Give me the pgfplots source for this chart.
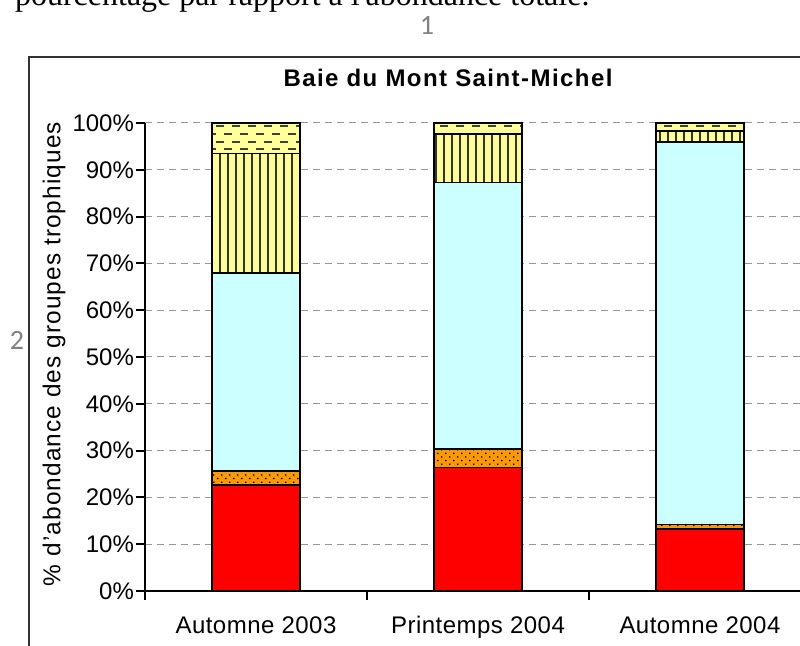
\documentclass[border=0pt]{standalone}
\usepackage{fontspec}
\setmainfont{Liberation Sans}
\newfontfamily\serifdoc{Liberation Serif}
\newfontfamily\calib{Carlito}
\usepackage{pgfplots}
\pgfplotsset{compat=1.18}
\usetikzlibrary{patterns}
\definecolor{cred}{RGB}{255,0,0}
\definecolor{corange}{RGB}{255,153,0}
\definecolor{ccyan}{RGB}{204,255,255}
\definecolor{cyellow}{RGB}{255,255,153}
\definecolor{gridgray}{RGB}{150,150,150}

\pgfdeclarepatternformonly{xdots}{\pgfqpoint{-1pt}{-1pt}}{\pgfqpoint{5pt}{5pt}}{\pgfqpoint{4pt}{3.6pt}}{%
  \pgfpathcircle{\pgfqpoint{0.9pt}{0.9pt}}{0.45pt}%
  \pgfpathcircle{\pgfqpoint{2.9pt}{2.7pt}}{0.45pt}%
  \pgfusepath{fill}}
\pgfdeclarepatternformonly{xvlines}{\pgfqpoint{-0.5pt}{-0.5pt}}{\pgfqpoint{4.5pt}{4.5pt}}{\pgfqpoint{4pt}{4pt}}{%
  \pgfsetlinewidth{0.75pt}%
  \pgfpathmoveto{\pgfqpoint{2pt}{-0.5pt}}%
  \pgfpathlineto{\pgfqpoint{2pt}{4.5pt}}%
  \pgfusepath{stroke}}
\pgfdeclarepatternformonly{xhdash}{\pgfqpoint{-0.5pt}{-0.5pt}}{\pgfqpoint{8.5pt}{8.2pt}}{\pgfqpoint{8pt}{7.7pt}}{%
  \pgfsetlinewidth{0.9pt}%
  \pgfpathmoveto{\pgfqpoint{0.2pt}{1.9pt}}\pgfpathlineto{\pgfqpoint{4pt}{1.9pt}}%
  \pgfpathmoveto{\pgfqpoint{4.2pt}{5.75pt}}\pgfpathlineto{\pgfqpoint{8pt}{5.75pt}}%
  \pgfusepath{stroke}}

\begin{document}
\begin{tikzpicture}[x=0.5pt,y=0.5pt]
\useasboundingbox (0,0) rectangle (800,646);
\node[anchor=base west, font={\serifdoc\fontsize{16}{18}\selectfont}] at (8,640) {pourcentage par rapport à l{\char"0027}abondance totale.};
\node[font={\calib\fontsize{14}{16}\selectfont}, text=black!50] at (427,620) {1};
\node[font={\calib\fontsize{14}{16}\selectfont}, text=black!50] at (17,306) {2};
\draw[black!80, line width=0.75pt] (29,589) rectangle (900,-80);
\node[font={\bfseries\fontsize{12}{14}\selectfont\addfontfeatures{LetterSpace=6}}] at (448,568) {Baie du Mont Saint-Michel};
\node[rotate=90, font={\fontsize{12.2}{14}\selectfont\addfontfeatures{LetterSpace=4.5}}] at (54,292) {\% d{\char"0027}abondance des groupes trophiques};
\begin{axis}[
  at={(72.5pt,27.5pt)}, anchor=south west,
  width=333pt, height=234pt, scale only axis,
  xmin=-0.5, xmax=2.5, ymin=0, ymax=100,
  axis lines*=left,
  axis line style={line width=1.3pt, black},
  ybar stacked, bar width=44pt,
  ytick={0,10,...,100},
  yticklabels={0\%,10\%,20\%,30\%,40\%,50\%,60\%,70\%,80\%,90\%,100\%},
  yticklabel style={xshift=2.5pt},
  xtick={-0.5,0.5,1.5,2.5}, xticklabels={},
  extra x ticks={0,1,2},
  extra x tick labels={Automne 2003,Printemps 2004,Automne 2004},
  extra x tick style={major tick length=0pt, grid=none,
     tick label style={yshift=-9pt, text height=8.5pt, text depth=2.5pt, font={\fontsize{12}{14}\selectfont\addfontfeatures{LetterSpace=2}}}},
  tick align=outside, major tick length=4.5pt,
  tick style={black, line width=1pt},
  ticklabel style={font={\fontsize{12}{14}\selectfont}},
  ymajorgrids,
  grid style={gridgray, line width=0.5pt, dash pattern=on 3.5pt off 2.5pt},
  every axis plot/.append style={draw=black, line width=0.9pt},
]
\addplot[fill=cred] coordinates {(0,22.6) (1,26.4) (2,13.2)};
\addplot[preaction={fill=corange}, pattern=xdots, pattern color=black] coordinates {(0,3.0) (1,3.9) (2,1.0)};
\addplot[fill=ccyan] coordinates {(0,42.3) (1,57.0) (2,81.8)};
\addplot[preaction={fill=cyellow}, pattern=xvlines, pattern color=black!80] coordinates {(0,25.6) (1,10.3) (2,2.3)};
\addplot[preaction={fill=cyellow}, pattern=xhdash, pattern color=black!75] coordinates {(0,6.5) (1,2.4) (2,1.7)};
\end{axis}
\end{tikzpicture}
\end{document}
